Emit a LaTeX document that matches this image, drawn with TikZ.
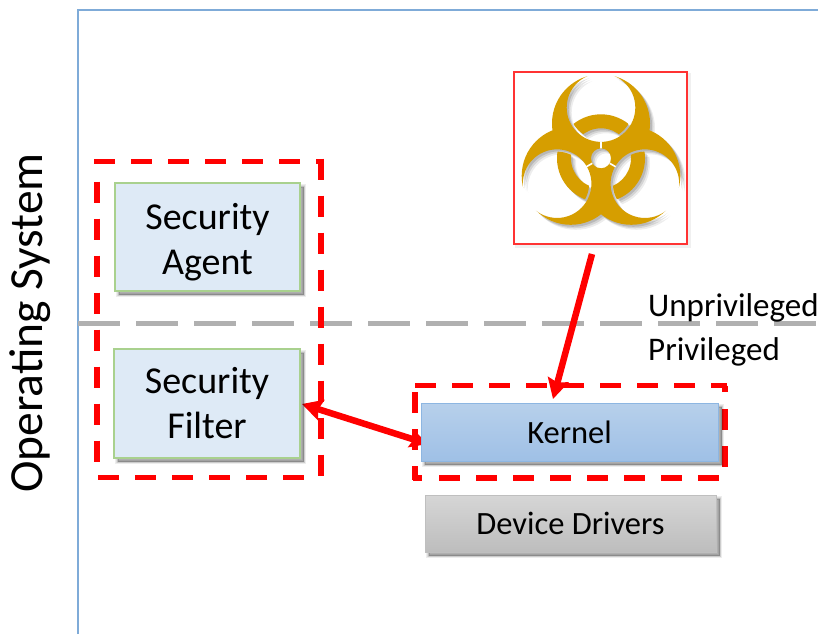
\documentclass[tikz,border=0pt]{standalone}
\usepackage{fontspec}
\setmainfont{Carlito}
\usetikzlibrary{arrows.meta}
\definecolor{gold}{HTML}{D69E00}
\definecolor{framebl}{HTML}{7FABD8}
\definecolor{redd}{HTML}{FF0000}
\definecolor{greyd}{HTML}{B0B0B0}
\definecolor{boxblue}{HTML}{DEEAF6}
\definecolor{boxgreen}{HTML}{A9D18E}
\definecolor{kerntop}{HTML}{B7D0EB}
\definecolor{kernbot}{HTML}{9FC0E6}
\definecolor{kernline}{HTML}{8DB6E2}
\definecolor{gtop}{HTML}{D6D6D6}
\definecolor{gbot}{HTML}{BDBDBD}
\newcommand{\cutcircle}[3]{\clip (-120,-120) rectangle (120,120) (#1,#2) circle[radius=#3];}
\newcommand{\biosym}[1]{%
  \begin{scope}[even odd rule]
    \cutcircle{0}{-50.7}{34.3}
    \cutcircle{-43.9}{25.35}{34.3}
    \cutcircle{43.9}{25.35}{34.3}
    \cutcircle{0}{0}{10}
    \fill[#1,nonzero rule] (0,-35) circle[radius=49] (-30.3,17.5) circle[radius=49] (30.3,17.5) circle[radius=49];
  \end{scope}
  \begin{scope}
    \clip (0,-50.7) circle[radius=32] (-43.9,25.35) circle[radius=32] (43.9,25.35) circle[radius=32];
    \fill[#1,even odd rule] (0,0) circle[radius=44] (0,0) circle[radius=30];
  \end{scope}}
\tikzset{
  x=1pt,y=-1pt,
  softlayer/.style={preaction={draw=black,fill=black,opacity=.07,line width=#1,transform canvas={shift={(3.5pt,-3.5pt)}}}},
  softshadow/.style={softlayer=5pt,softlayer=3.5pt,softlayer=2pt,softlayer=.5pt},
  greenbox/.style={draw=boxgreen,line width=1.2pt,fill=boxblue,softshadow,align=center,inner sep=0pt,
    font=\fontsize{38}{45}\selectfont},
  flatbox/.style={line width=1pt,softshadow,inner sep=0pt,font=\fontsize{32.5}{38}\selectfont},
  reddash/.style={draw=redd,line width=5.5pt,dash pattern=on 21pt off 16pt},
  greydash/.style={draw=greyd,line width=5pt,dash pattern=on 42pt off 16pt},
  frameline/.style={draw=framebl,line width=1.8pt},
  redarrow/.style={draw=redd,line width=6.5pt,-{Stealth[length=20pt,width=21pt,inset=3pt]}},
  redboth/.style={draw=redd,line width=6.5pt,{Stealth[length=20pt,width=21pt,inset=3pt]}-{Stealth[length=18pt,width=18pt,inset=3pt]}},
  lab/.style={font=\fontsize{33}{40}\selectfont,anchor=west,inner sep=0pt},
}
\begin{document}
\begin{tikzpicture}
\useasboundingbox (0,0) rectangle (818,634);
\fill[white] (0,0) rectangle (818,634);
% frame
\draw[frameline] (78,634) -- (78,10) -- (818,10);
% privilege line
\draw[greydash] (78,323.7) -- (818,323.7);
% dashed groups
\draw[reddash] (94,161.7) -- (321,161.7)
  (321,158.7) -- (321,480)
  (98.3,477.7) -- (305,477.7)
  (97,181.7) -- (97,462);
\draw[reddash] (415,385.7) -- (727,385.7)
  (415,392) -- (415,480)
  (725,385.7) -- (725,392) (725,409) -- (725,468)
  (413,478) -- (422,478) (439.3,478) -- (720,478);
% connector running behind the kernel box
\coordinate (filterin) at (302,404);
\coordinate (kernelout) at (428,444);
\draw[redboth] (filterin) -- (kernelout);
% boxes
\node[greenbox,minimum width=185pt,minimum height=108pt] (agent) at (207.5,237) {\rule{0pt}{36pt}Security\\Agent};
\node[greenbox,minimum width=186pt,minimum height=109pt] (filter) at (207,403.5) {Security\\Filter};
\node[flatbox,draw=kernline,top color=kerntop,bottom color=kernbot,minimum width=297pt,minimum height=58pt] (kernel) at (569.5,432) {Kernel};
\node[flatbox,draw=gray!50,top color=gtop,bottom color=gbot,minimum width=291pt,minimum height=57pt] (drivers) at (570.5,523.5) {Device Drivers};
% hazard box
\node[draw=redd!80,line width=1.4pt,fill=white,minimum width=173pt,minimum height=172pt,inner sep=0pt,
  preaction={draw=black,opacity=.06,line width=3pt,transform canvas={shift={(2pt,-2pt)}}}] (hazard) at (600.5,158) {};
% symbol shadow
\begin{scope}[shift={(603,160.3)}] \biosym{black,opacity=.13} \end{scope}
\begin{scope}[shift={(604.5,161.8)}] \biosym{black,opacity=.10} \end{scope}
\begin{scope}[shift={(606,163.3)}] \biosym{black,opacity=.07} \end{scope}
% symbol
\begin{scope}[shift={(601,158.3)}]
  \biosym{gold}
  \draw[white,line width=1.6pt] (0,-10) -- (0,-17) (-8.7,5) -- (-14.7,8.5) (8.7,5) -- (14.7,8.5);
\end{scope}
% connector from the hazard
\coordinate (hazardout) at (592,254);
\coordinate (kernelin) at (553,399);
\draw[redarrow] (hazardout) -- (kernelin);
% labels
\node[lab] (unpriv) at (648,308) {Unprivileged};
\node[lab] (priv) at (648,351.5) {Privileged};
\node[rotate=90,inner sep=0pt,font=\fontsize{47.5}{56}\selectfont] (os) at (30,323) {Operating System};
\end{tikzpicture}
\end{document}
